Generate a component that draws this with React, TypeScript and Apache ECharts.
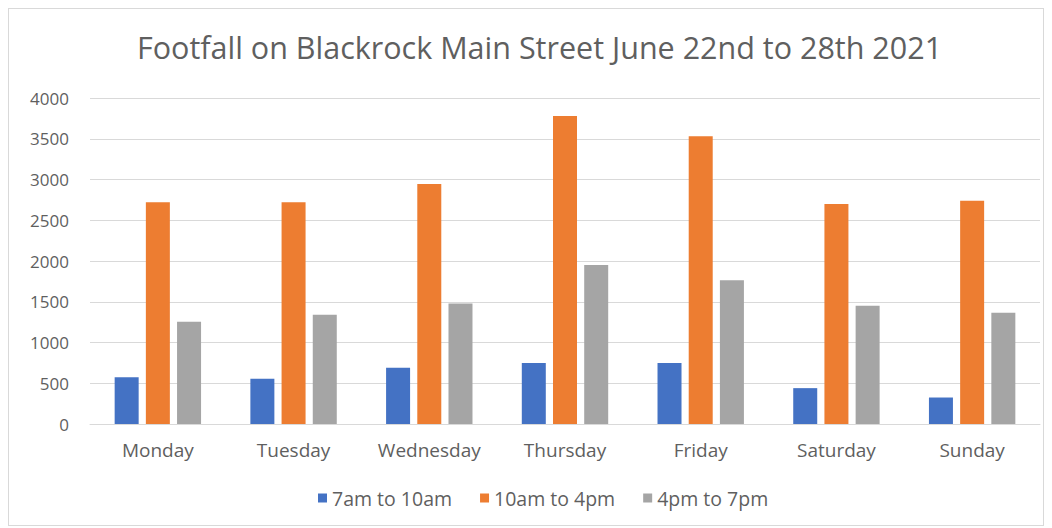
import React, { useEffect, useRef } from "react";
import * as echarts from "echarts";

const categories = ["Monday", "Tuesday", "Wednesday", "Thursday", "Friday", "Saturday", "Sunday"];
const seriesNames = ["7am to 10am", "10am to 4pm", "4pm to 7pm"];
const morning = [575, 555, 690, 750, 750, 440, 325];
const midday = [2720, 2720, 2945, 3780, 3530, 2700, 2740];
const evening = [1255, 1340, 1480, 1950, 1765, 1450, 1365];
const colors = ["#4472c4", "#ed7d31", "#a5a5a5"];

export default function App() {
  const ref = useRef<HTMLDivElement>(null);
  useEffect(() => {
    if (!ref.current) return;
    const chart = echarts.init(ref.current, null, { renderer: "svg" });
    const font = "Open Sans";
    const data = [morning, midday, evening];
    chart.setOption({
      animation: false,
      title: {
        text: "Footfall on Blackrock Main Street June 22nd to 28th 2021",
        left: 123,
        top: 17,
        textStyle: { fontFamily: font, fontSize: 30.5, fontWeight: "normal", color: "#5f5f5f" },
      },
      legend: {
        data: seriesNames,
        bottom: 12,
        left: 304,
        itemWidth: 9,
        itemHeight: 9,
        itemGap: 28,
        icon: "rect",
        textStyle: { fontFamily: font, fontSize: 19.5, color: "#5f5f5f" },
      },
      grid: { left: 81, right: 3, top: 89, height: 326, containLabel: false },
      xAxis: {
        type: "category",
        data: categories,
        axisLine: { lineStyle: { color: "#d9d9d9" } },
        axisTick: { show: false },
        axisLabel: { fontFamily: font, fontSize: 19, color: "#5f5f5f", margin: 16 },
      },
      yAxis: {
        type: "value",
        min: 0,
        max: 4000,
        interval: 500,
        axisLine: { show: false },
        axisTick: { show: false },
        splitLine: { lineStyle: { color: "#d9d9d9" } },
        axisLabel: {
          fontFamily: font,
          fontSize: 17,
          color: "#5f5f5f",
          margin: 21,
          formatter: (v: number) => String(v),
        },
      },
      series: seriesNames.map((name, i) => ({
        name,
        type: "bar",
        data: data[i],
        barWidth: 24,
        barGap: "30%",
        itemStyle: { color: colors[i] },
      })),
    });
    return () => chart.dispose();
  }, []);
  return (
    <div
      ref={ref}
      style={{ width: 1036, height: 518, border: "1px solid #d9d9d9", boxSizing: "border-box" }}
    />
  );
}
